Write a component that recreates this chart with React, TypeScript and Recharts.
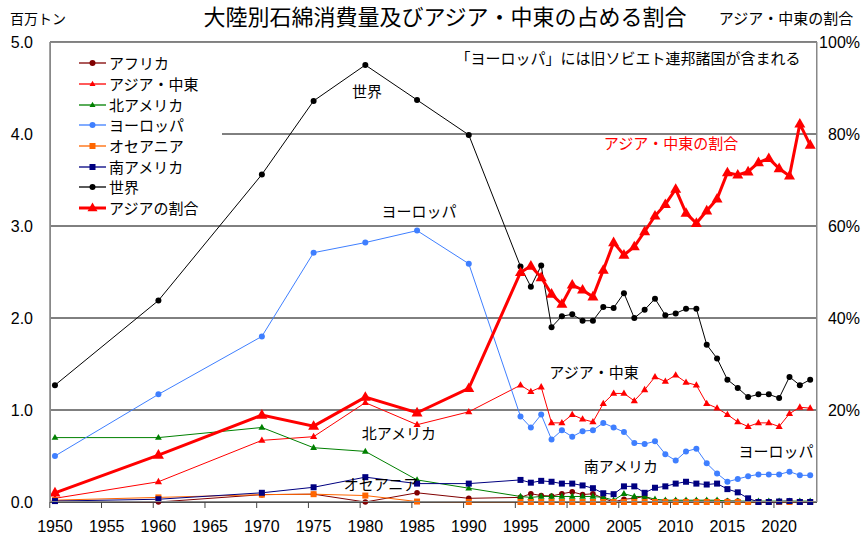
import { LineChart, Line, XAxis, YAxis, CartesianGrid, Legend } from 'recharts';

const JP = '"Noto Sans CJK JP", "Noto Sans", sans-serif';
const NUM = '"Liberation Sans", Arial, sans-serif';

// 年（1950〜1990は5・10年おき、1995以降は毎年）
const YEARS = [
  1950, 1960, 1970, 1975, 1980, 1985, 1990,
  1995, 1996, 1997, 1998, 1999, 2000, 2001, 2002, 2003, 2004, 2005, 2006, 2007, 2008, 2009,
  2010, 2011, 2012, 2013, 2014, 2015, 2016, 2017, 2018, 2019, 2020, 2021, 2022, 2023,
];

// 百万トン
const AFRICA = [
  0.01, 0.0, 0.08, 0.085, 0.0, 0.1, 0.04,
  0.05, 0.09, 0.07, 0.065, 0.09, 0.11, 0.08, 0.09, 0.04, 0.0, 0.03, 0.04, 0.06, 0.01, 0.01,
  0.01, 0.01, 0.01, 0.01, 0.01, 0.01, 0.01, 0.0, 0.0, 0.0, 0.0, 0.0, 0.0, 0.0,
];
const ASIA_ME = [
  0.04, 0.22, 0.67, 0.71, 1.08, 0.84, 0.98,
  1.27, 1.2, 1.25, 0.86, 0.86, 0.95, 0.9, 0.87, 1.07, 1.18, 1.18, 1.1, 1.22, 1.36, 1.31,
  1.38, 1.3, 1.27, 1.07, 1.02, 0.95, 0.87, 0.82, 0.86, 0.86, 0.82, 0.96, 1.03, 1.02,
];
const N_AMERICA = [
  0.7, 0.7, 0.81, 0.59, 0.55, 0.24, 0.15,
  0.06, 0.05, 0.06, 0.06, 0.06, 0.06, 0.06, 0.06, 0.05, 0.02, 0.09, 0.06, 0.06, 0.03, 0.02,
  0.02, 0.02, 0.02, 0.02, 0.02, 0.01, 0.01, 0.01, 0.01, 0.01, 0.01, 0.01, 0.01, 0.01,
];
const EUROPE = [
  0.5, 1.17, 1.8, 2.71, 2.82, 2.95, 2.59,
  0.93, 0.81, 0.95, 0.68, 0.78, 0.71, 0.77, 0.78, 0.86, 0.81, 0.76, 0.64, 0.63, 0.66, 0.52,
  0.45, 0.55, 0.58, 0.42, 0.31, 0.22, 0.25, 0.28, 0.3, 0.3, 0.3, 0.33, 0.29, 0.29,
];
const OCEANIA = [
  0.02, 0.05, 0.08, 0.085, 0.07, 0.005, 0.0,
  0.0, 0.0, 0.0, 0.0, 0.0, 0.0, 0.0, 0.0, 0.0, 0.0, 0.0, 0.0, 0.0, 0.0, 0.0,
  0.0, 0.0, 0.0, 0.0, 0.0, 0.0, 0.0, 0.0, 0.0, 0.0, 0.0, 0.0, 0.0, 0.0,
];
const S_AMERICA = [
  0.01, 0.03, 0.1, 0.16, 0.27, 0.2, 0.2,
  0.24, 0.21, 0.23, 0.22, 0.2, 0.2, 0.18, 0.15, 0.095, 0.085, 0.17, 0.17, 0.1, 0.155, 0.17,
  0.2, 0.22, 0.2, 0.19, 0.2, 0.14, 0.105, 0.04, 0.0, 0.0, 0.005, 0.01, 0.0, 0.0,
];
const WORLD = [
  1.27, 2.19, 3.56, 4.36, 4.75, 4.37, 3.99,
  2.56, 2.34, 2.57, 1.9, 2.02, 2.04, 1.97, 1.97, 2.12, 2.11, 2.27, 2.0, 2.09, 2.21, 2.03,
  2.05, 2.1, 2.1, 1.71, 1.56, 1.33, 1.24, 1.14, 1.17, 1.17, 1.13, 1.36, 1.27, 1.33,
];
// %（右軸）
const ASIA_SHARE = [
  2, 10.2, 18.9, 16.5, 22.8, 19.4, 24.7,
  49.9, 51.3, 48.8, 45.2, 43.0, 47.2, 46.1, 44.6, 50.4, 56.4, 53.7, 55.5, 58.8, 62.2, 64.7,
  68.0, 62.8, 60.6, 63.3, 65.9, 71.6, 71.1, 71.8, 73.8, 74.7, 72.5, 70.9, 82.2, 77.6,
];

const X_TICKS = [1950, 1955, 1960, 1965, 1970, 1975, 1980, 1985, 1990, 1995, 2000, 2005, 2010, 2015, 2020];
const LEFT_TICKS = [0, 1, 2, 3, 4, 5];
const RIGHT_TICKS = [20, 40, 60, 80, 100];

type Shape = 'circle' | 'triangle' | 'square';
interface SeriesDef {
  key: string;
  name: string;
  color: string;
  shape: Shape;
  size: number;
  width: number;
  axis: 'left' | 'right';
  values: number[];
}

const SERIES: SeriesDef[] = [
  { key: 'africa', name: 'アフリカ', color: '#800000', shape: 'circle', size: 2.8, width: 1, axis: 'left', values: AFRICA },
  { key: 'asia', name: 'アジア・中東', color: '#FF0000', shape: 'triangle', size: 3.6, width: 1, axis: 'left', values: ASIA_ME },
  { key: 'namerica', name: '北アメリカ', color: '#008000', shape: 'triangle', size: 3.4, width: 1, axis: 'left', values: N_AMERICA },
  { key: 'europe', name: 'ヨーロッパ', color: '#3F7FFF', shape: 'circle', size: 3, width: 1, axis: 'left', values: EUROPE },
  { key: 'oceania', name: 'オセアニア', color: '#FF6600', shape: 'square', size: 3, width: 1, axis: 'left', values: OCEANIA },
  { key: 'samerica', name: '南アメリカ', color: '#000080', shape: 'square', size: 3, width: 1, axis: 'left', values: S_AMERICA },
  { key: 'world', name: '世界', color: '#000000', shape: 'circle', size: 3, width: 1, axis: 'left', values: WORLD },
  { key: 'share', name: 'アジアの割合', color: '#FF0000', shape: 'triangle', size: 5.5, width: 3, axis: 'right', values: ASIA_SHARE },
];

const data = YEARS.map((year, i) => {
  const row: Record<string, number> = { year };
  SERIES.forEach(s => {
    row[s.key] = s.values[i];
  });
  return row;
});

// 散布図風の横軸：目盛線は半年左にずれている
const X_DOMAIN: [number, number] = [1949.52, 2023.66];
const HALF_YEAR_PX = 5.17;

function Marker({ cx, cy, shape, color, size }: { cx: number; cy: number; shape: Shape; color: string; size: number }) {
  if (cx == null || cy == null || isNaN(cx) || isNaN(cy)) return null;
  if (shape === 'circle') return <circle cx={cx} cy={cy} r={size} fill={color} stroke="none" />;
  if (shape === 'square') {
    return <rect x={cx - size} y={cy - size} width={size * 2} height={size * 2} fill={color} />;
  }
  const h = size * 1.75;
  return (
    <polygon
      points={`${cx},${cy - h * 0.62} ${cx - size},${cy + h * 0.38} ${cx + size},${cy + h * 0.38}`}
      fill={color}
    />
  );
}

const XTick = (props: any) => {
  const { x, y, payload } = props;
  const lx = x - HALF_YEAR_PX;
  return (
    <g>
      <line x1={lx} x2={lx} y1={y} y2={y + 6} stroke="#444" />
      <text x={x} y={y + 30} textAnchor="middle" fontFamily={NUM} fontSize={16} fill="#000">
        {payload.value}
      </text>
    </g>
  );
};

const LeftTick = (props: any) => {
  const { y, payload } = props;
  return (
    <text x={33} y={y + 6} textAnchor="end" fontFamily={NUM} fontSize={16} fill="#000">
      {Number(payload.value).toFixed(1)}
    </text>
  );
};

const RightTick = (props: any) => {
  const { x, y, payload } = props;
  return (
    <text x={x} y={y + 6} textAnchor="end" fontFamily={NUM} fontSize={16} fill="#000">
      {`${payload.value}%`}
    </text>
  );
};

function LegendBox() {
  return (
    <div style={{ paddingTop: 10, paddingLeft: 27 }}>
      {SERIES.map(s => (
        <div key={s.key} style={{ display: 'flex', alignItems: 'center', height: 20.7 }}>
          <svg width={30} height={16} style={{ display: 'block' }}>
            <line x1={1} x2={28} y1={8} y2={8} stroke={s.color} strokeWidth={s.width === 3 ? 3 : 1.3} />
            <Marker cx={14.5} cy={8} shape={s.shape} color={s.color} size={s.shape === 'triangle' && s.width === 3 ? 5 : 3} />
          </svg>
          <span style={{ fontFamily: JP, fontSize: 15, color: '#000', marginLeft: 1, lineHeight: '16px' }}>{s.name}</span>
        </div>
      ))}
    </div>
  );
}

const LABELS = [
  { text: '世界', x: 367, y: 91, color: '#000' },
  { text: 'ヨーロッパ', x: 419, y: 211, color: '#000' },
  { text: 'アジア・中東の割合', x: 671, y: 143, color: '#FF0000' },
  { text: 'アジア・中東', x: 594, y: 372, color: '#000' },
  { text: '北アメリカ', x: 399, y: 433, color: '#000' },
  { text: 'オセアニア', x: 381, y: 484, color: '#000' },
  { text: '南アメリカ', x: 621, y: 466, color: '#000' },
  { text: 'ヨーロッパ', x: 776, y: 451, color: '#000' },
];

export default function App() {
  return (
    <div style={{ position: 'absolute', left: 0, top: 0, width: 863, height: 538, background: '#fff' }}>
      <LineChart width={863} height={538} data={data} margin={{ top: 42, right: 0, bottom: 0, left: 0 }}>
        <CartesianGrid yAxisId="left" vertical={false} stroke="#000" />
        <XAxis
          dataKey="year"
          type="number"
          domain={X_DOMAIN}
          allowDataOverflow
          ticks={X_TICKS}
          height={36}
          tickSize={0}
          tickMargin={0}
          tickLine={false}
          tick={<XTick />}
          axisLine={{ stroke: '#222' }}
        />
        <YAxis
          yAxisId="left"
          orientation="left"
          width={50}
          domain={[0, 5]}
          ticks={LEFT_TICKS}
          tickSize={0}
          tickLine={false}
          tick={<LeftTick />}
          axisLine={{ stroke: '#444' }}
        />
        <YAxis
          yAxisId="right"
          orientation="right"
          width={46}
          domain={[0, 100]}
          ticks={RIGHT_TICKS}
          tickSize={0}
          tickMargin={43}
          tickLine={false}
          tick={<RightTick />}
          axisLine={{ stroke: '#888' }}
        />
        <Legend
          layout="vertical"
          align="center"
          verticalAlign="middle"
          wrapperStyle={{ left: 51, top: 43, width: 171, height: 178, background: '#fff' }}
          content={() => <LegendBox />}
        />
        {SERIES.map(s => (
          <Line
            key={s.key}
            yAxisId={s.axis}
            dataKey={s.key}
            name={s.name}
            stroke={s.color}
            strokeWidth={s.width}
            isAnimationActive={false}
            dot={(p: any) => (
              <Marker key={`${s.key}-${p.index}`} cx={p.cx} cy={p.cy} shape={s.shape} color={s.color} size={s.size} />
            )}
            activeDot={false}
          />
        ))}
      </LineChart>
      <svg
        width={863}
        height={538}
        style={{ position: 'absolute', left: 0, top: 0, pointerEvents: 'none' }}
      >
        <rect x={50.5} y={42.5} width={766} height={459} fill="none" stroke="#888" />
        <text x={445} y={25} textAnchor="middle" fontFamily={JP} fontSize={22} fill="#000">
          大陸別石綿消費量及びアジア・中東の占める割合
        </text>
        <text x={38} y={24} textAnchor="middle" fontFamily={JP} fontSize={14} fill="#000">
          百万トン
        </text>
        <text x={786} y={24} textAnchor="middle" fontFamily={JP} fontSize={15} fill="#000">
          アジア・中東の割合
        </text>
        <text x={628} y={64} textAnchor="middle" fontFamily={JP} fontSize={15} fill="#000">
          「ヨーロッパ」には旧ソビエト連邦諸国が含まれる
        </text>
        {LABELS.map((l, i) => (
          <text key={i} x={l.x} y={l.y + 5.5} textAnchor="middle" fontFamily={JP} fontSize={15} fill={l.color}>
            {l.text}
          </text>
        ))}
      </svg>
    </div>
  );
}
